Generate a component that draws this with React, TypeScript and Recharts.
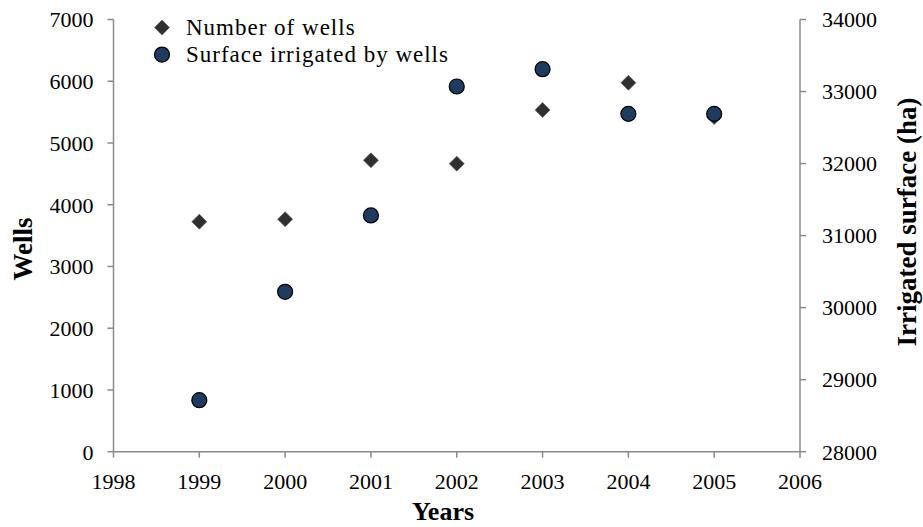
import {
  ScatterChart,
  Scatter,
  XAxis,
  YAxis,
  Legend,
  Label,
} from "recharts";

const years = [1999, 2000, 2001, 2002, 2003, 2004, 2005];
const wells = [3725, 3765, 4720, 4665, 5535, 5975, 5420];
const surface = [28715, 30220, 31280, 33070, 33310, 32690, 32690];

const yearTicks = [1998, 1999, 2000, 2001, 2002, 2003, 2004, 2005, 2006];
const wellTicks = [0, 1000, 2000, 3000, 4000, 5000, 6000, 7000];
const surfaceTicks = [28000, 29000, 30000, 31000, 32000, 33000, 34000];

const wellsName = "Number of wells";
const surfaceName = "Surface irrigated by wells";

const FONT = "'Liberation Serif', 'Times New Roman', serif";
const AXIS = "#8a8a8a";
const DIAMOND = "#303030";
const CIRCLE = "#1f3b60";

const wellsData = years.map((year, i) => ({ year, value: wells[i] }));
const surfaceData = years.map((year, i) => ({ year, value: surface[i] }));

const tickStyle = { fontFamily: FONT, fontSize: 22, fill: "#000" };

function Diamond({ cx, cy }: any) {
  const r = 7.5;
  return (
    <polygon
      points={`${cx},${cy - r} ${cx + r},${cy} ${cx},${cy + r} ${cx - r},${cy}`}
      fill={DIAMOND}
      stroke="#555"
      strokeWidth={0.6}
    />
  );
}

function Dot({ cx, cy }: any) {
  return <circle cx={cx} cy={cy} r={7.5} fill={CIRCLE} stroke="#000" strokeWidth={1.2} />;
}

function renderLegend() {
  const rows = [
    { name: wellsName, kind: "diamond" },
    { name: surfaceName, kind: "circle" },
  ];
  return (
    <div style={{ fontFamily: FONT, fontSize: 23, letterSpacing: 1, lineHeight: "27px", color: "#000" }}>
      {rows.map((row) => (
        <div key={row.name} style={{ display: "flex", alignItems: "flex-start", whiteSpace: "nowrap" }}>
          <svg width={36} height={27}>
            {row.kind === "diamond" ? (
              <Diamond cx={12} cy={13.6} />
            ) : (
              <Dot cx={12} cy={13.6} />
            )}
          </svg>
          <span>{row.name}</span>
        </div>
      ))}
    </div>
  );
}

function titleText(text: string, x: number, y: number, rotate: boolean, size: number) {
  return (
    <text
      x={x}
      y={y}
      textAnchor="middle"
      transform={rotate ? `rotate(-90 ${x} ${y})` : undefined}
      style={{ fontFamily: FONT, fontSize: size, fontWeight: "bold", fill: "#000" }}
    >
      {text}
    </text>
  );
}

export default function App() {
  return (
    <div style={{ position: "absolute", left: 0, top: 0, width: 923, height: 527, background: "#fff" }}>
      <ScatterChart width={923} height={527} margin={{ top: 19.5, right: 0, bottom: 0, left: 0 }}>
        <XAxis
          type="number"
          dataKey="year"
          domain={[1998, 2006]}
          ticks={yearTicks}
          height={75.3}
          axisLine={{ stroke: AXIS, strokeWidth: 1.5 }}
          tickLine={{ stroke: AXIS, strokeWidth: 1.5 }}
          tickSize={6}
          tickMargin={16}
          tick={tickStyle}
          interval={0}
        >
          <Label content={() => titleText("Years", 443, 520, false, 26)} />
        </XAxis>
        <YAxis
          yAxisId="left"
          type="number"
          dataKey="value"
          domain={[0, 7000]}
          ticks={wellTicks}
          width={113.5}
          axisLine={{ stroke: AXIS, strokeWidth: 1.5 }}
          tickLine={{ stroke: AXIS, strokeWidth: 1.5 }}
          tickSize={6}
          tickMargin={14}
          tick={tickStyle}
          interval={0}
        >
          <Label content={() => titleText("Wells", 31.5, 249, true, 27)} />
        </YAxis>
        <YAxis
          yAxisId="right"
          orientation="right"
          type="number"
          dataKey="value"
          domain={[28000, 34000]}
          ticks={surfaceTicks}
          width={123}
          axisLine={{ stroke: AXIS, strokeWidth: 1.5 }}
          tickLine={{ stroke: AXIS, strokeWidth: 1.5 }}
          tickSize={6}
          tickMargin={16}
          tick={tickStyle}
          interval={0}
        >
          <Label content={() => titleText("Irrigated surface (ha)", 916, 222, true, 27)} />
        </YAxis>
        <Legend
          layout="vertical"
          align="center"
          verticalAlign="middle"
          wrapperStyle={{ left: 150, top: 14.4, width: "auto" }}
          content={renderLegend}
        />
        <Scatter
          name={wellsName}
          data={wellsData}
          yAxisId="left"
          shape={<Diamond />}
          isAnimationActive={false}
        />
        <Scatter
          name={surfaceName}
          data={surfaceData}
          yAxisId="right"
          shape={<Dot />}
          isAnimationActive={false}
        />
      </ScatterChart>
    </div>
  );
}
